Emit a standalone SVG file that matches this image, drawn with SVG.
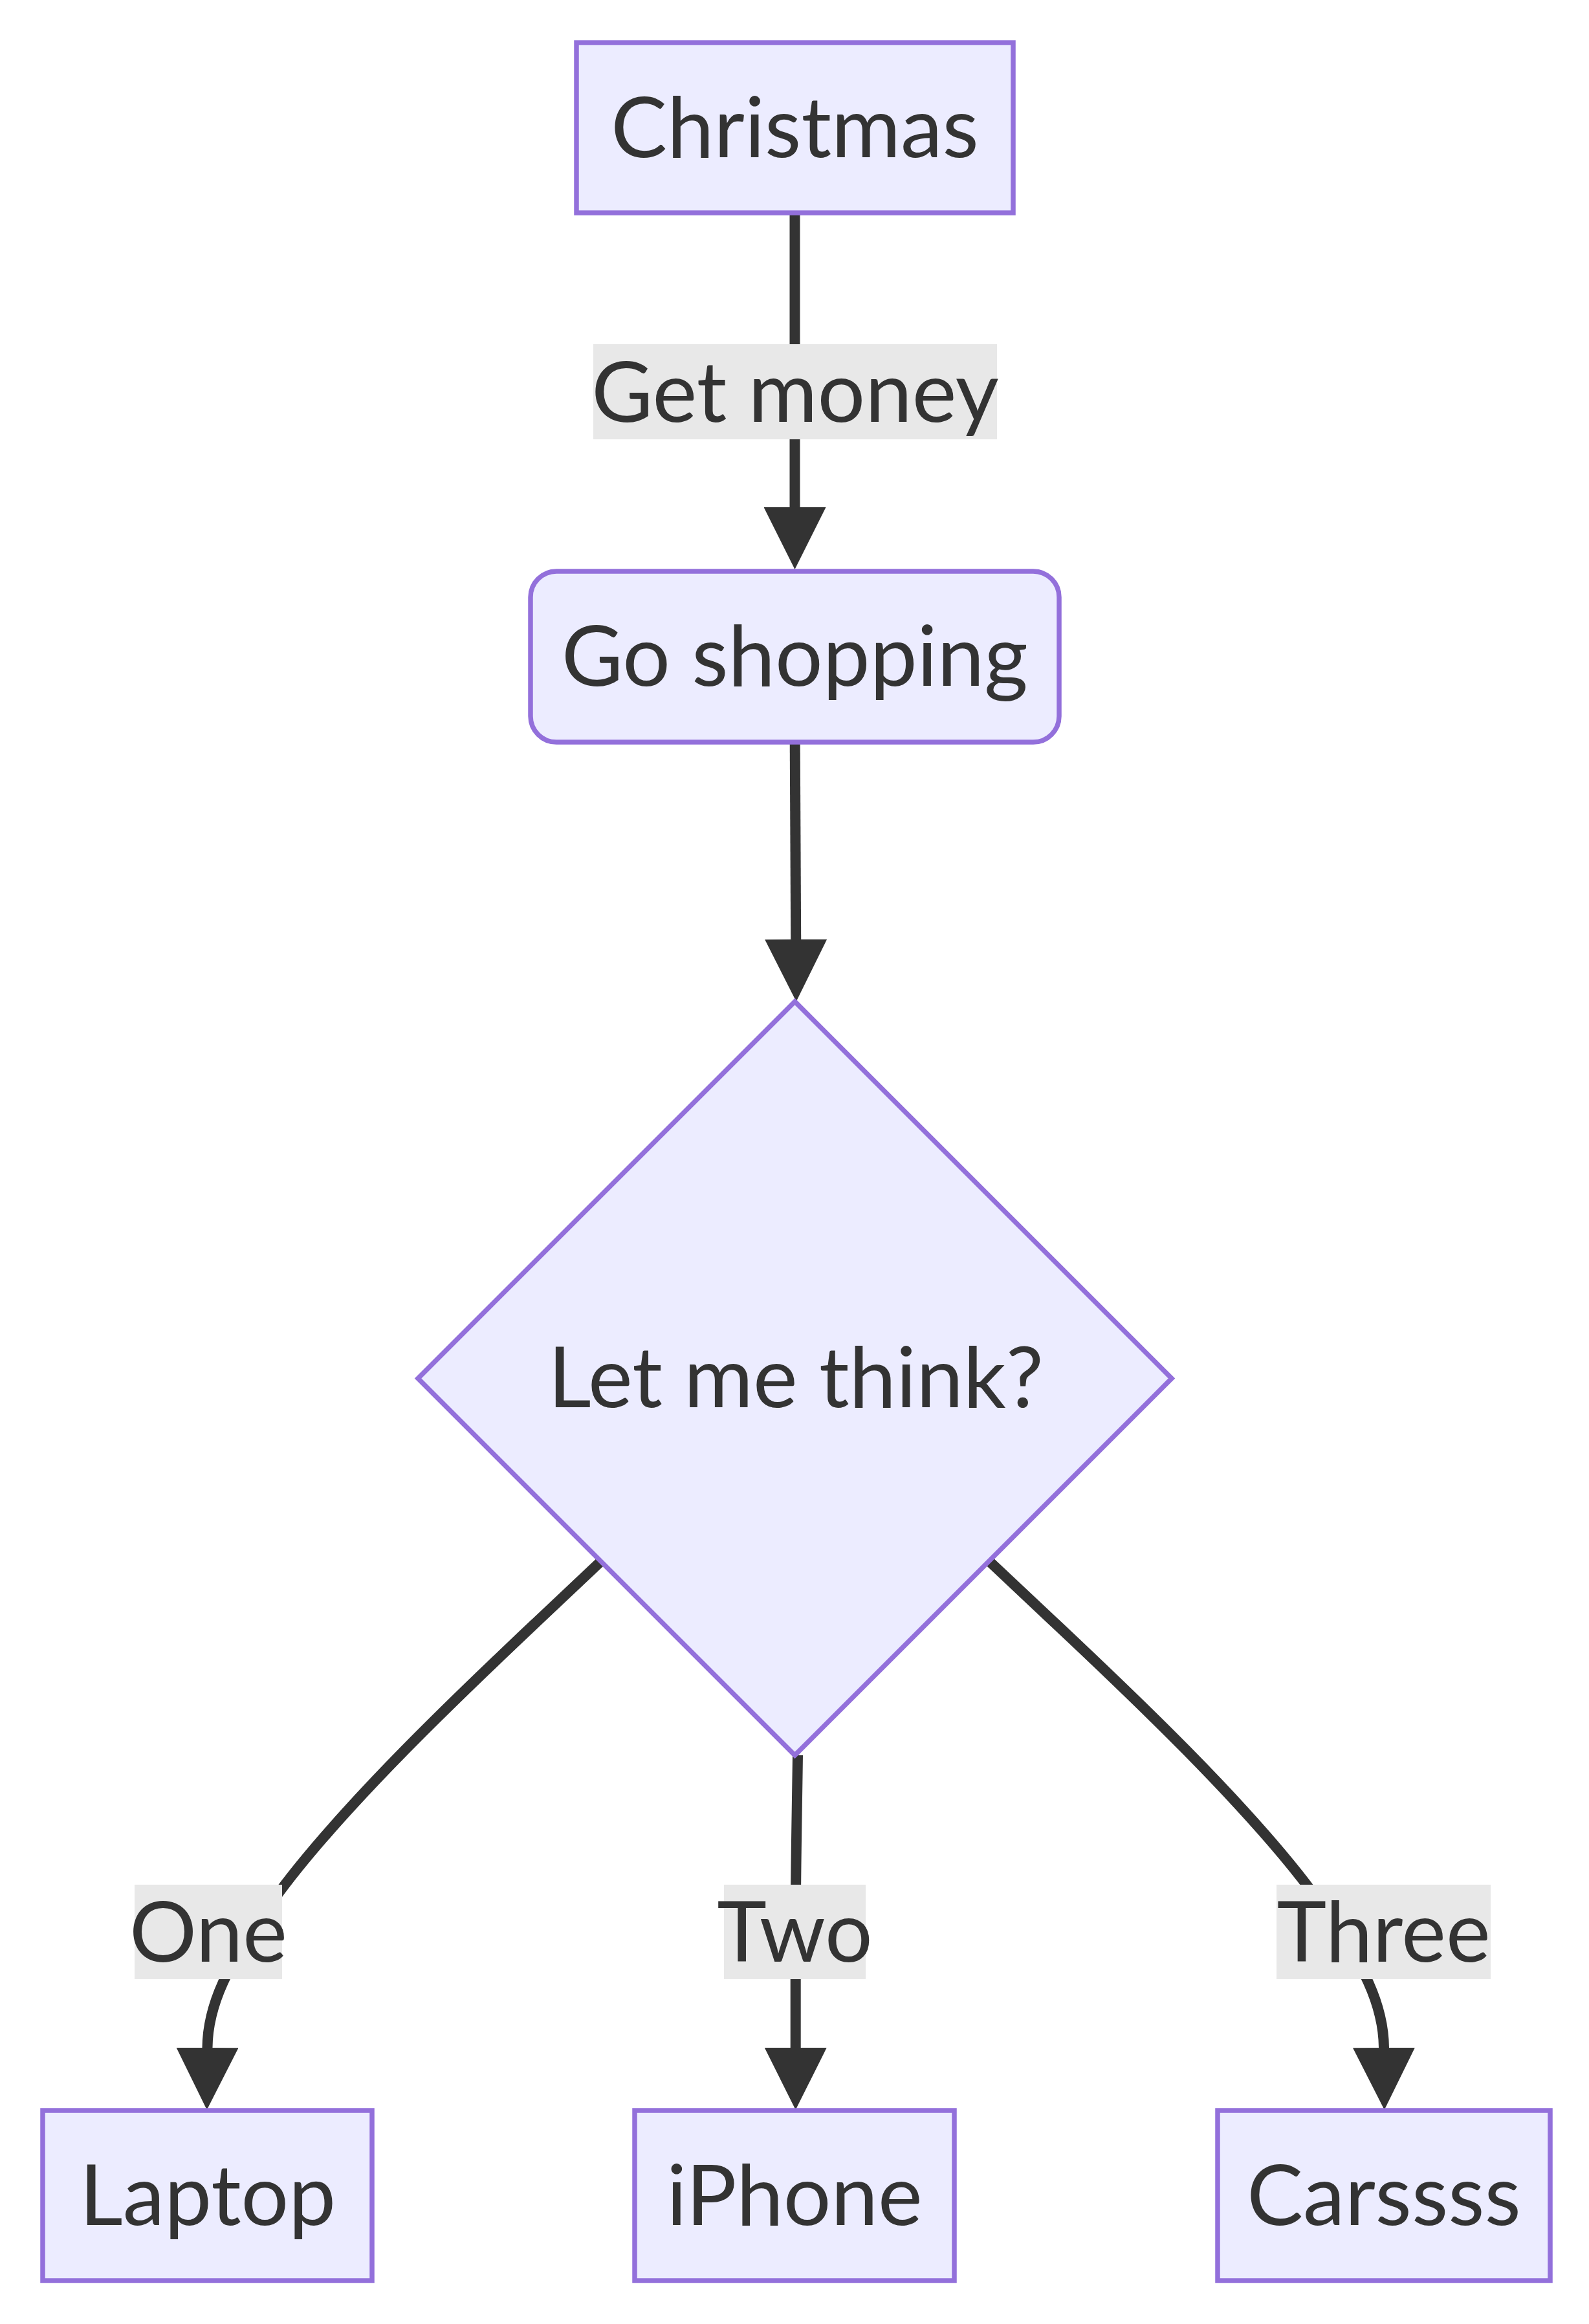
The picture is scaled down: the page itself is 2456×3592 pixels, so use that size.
<svg xmlns="http://www.w3.org/2000/svg" width="2456" height="3592" viewBox="0 0 2456 3592">
<defs>
<marker id="arrow" viewBox="0 0 10 10" refX="0" refY="5" markerWidth="96" markerHeight="96" markerUnits="userSpaceOnUse" orient="auto"><path d="M0,0 L10,5 L0,10 z" fill="#333333"/></marker>
<style>
.node rect, .node polygon { fill:#ECECFF; stroke:#9370DB; stroke-width:7.5; }
.edge { fill:none; stroke:#333333; stroke-width:16; marker-end:url(#arrow); }
.lbl-bg { fill:#E8E8E8; }
text { font-family:Lato,"Open Sans","DejaVu Sans",sans-serif; font-size:130px; fill:#333333; text-anchor:middle; }
</style>
</defs>
<rect width="2456" height="3592" fill="#FFFFFF"/>
<g id="connectors">
<path class="edge" d="M1228.5,329 L1228.5,784"/>
<path class="edge" d="M1228.7,1147 L1230.2,1452"/>
<path class="edge" d="M929,2413 L827.8,2508.5 C726.7,2604 524.3,2795 422.9,2936.5 C350,3038 321,3100 320.5,3165"/>
<path class="edge" d="M1233,2713 C1231.5,2820 1229.7,2900 1229.7,2986 L1229.7,3165"/>
<path class="edge" d="M1528.7,2412.8 L1630.3,2508.3 C1732,2603.9 1935.2,2794.9 2036.9,2936.5 C2110,3038 2138.5,3100 2139,3165"/>
<g id="edge-labels">
<rect class="lbl-bg" x="917" y="532" width="624" height="147"/>
<text x="1229" y="652">Get money</text>
<rect class="lbl-bg" x="208" y="2913" width="228" height="146"/>
<text x="322" y="3032">One</text>
<rect class="lbl-bg" x="1119" y="2913" width="219" height="146"/>
<text x="1228.5" y="3032">Two</text>
<rect class="lbl-bg" x="1973" y="2913" width="331" height="146"/>
<text x="2138.5" y="3032">Three</text>
</g>
</g>
<g id="node-christmas" class="node">
<rect x="891" y="66" width="675" height="263"/>
<text x="1228.5" y="243">Christmas</text>
</g>
<g id="node-goshopping" class="node">
<rect x="820" y="883" width="817" height="264" rx="40" ry="40"/>
<text x="1228.5" y="1060">Go shopping</text>
</g>
<g id="node-think" class="node">
<polygon points="1228.5,1548 1811,2130.5 1228.5,2713 646,2130.5"/>
<text x="1230" y="2175">Let me think?</text>
</g>
<g id="node-laptop" class="node">
<rect x="66" y="3262" width="509" height="263"/>
<text x="321" y="3439">Laptop</text>
</g>
<g id="node-iphone" class="node">
<rect x="981" y="3262" width="494" height="263"/>
<text x="1228" y="3439">iPhone</text>
</g>
<g id="node-carssss" class="node">
<rect x="1882" y="3262" width="514" height="263"/>
<text x="2139" y="3439">Carssss</text>
</g>
</svg>
